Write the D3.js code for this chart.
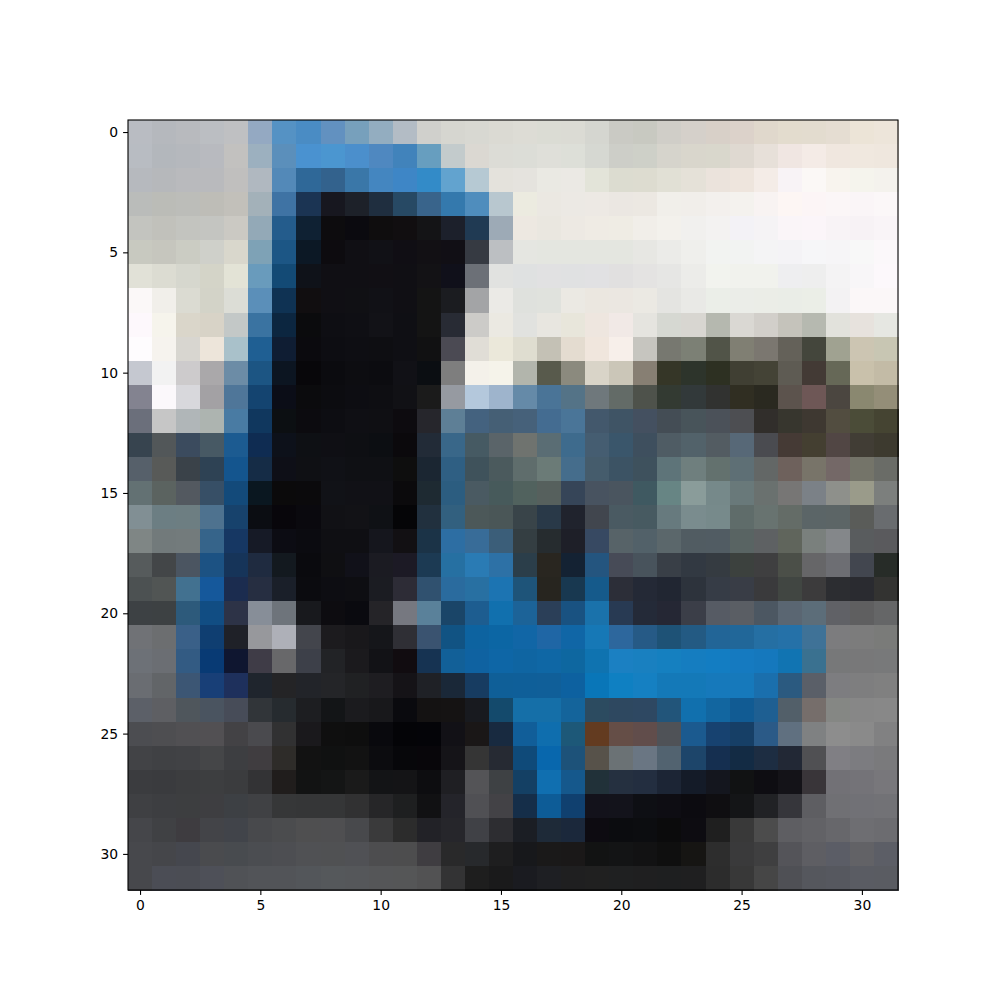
<!DOCTYPE html>
<html><head><meta charset="utf-8">
<script src="https://cdn.jsdelivr.net/npm/d3@7/dist/d3.min.js"></script>
<style>body{margin:0;background:#fff}svg{display:block}</style>
</head><body>
<script>
const row0=["#b9bcc2","#b5b8bd","#b8babe","#bbbec2","#bfc0c2","#94a9c2","#5592c4","#4a8cc4","#6291c0","#77a0bc","#93adc0","#b3bcc5","#d0d0cc","#d6d6d0","#d8d8d2","#dbdad3","#dddcd5","#dbdcd4","#dbdbd4","#d5d6d0","#cacac4","#c8c9c1","#d0cec8","#d5d0ca","#d8d0c8","#dcd2ca","#e0d8cc","#e3dcce","#e3dccf","#e5ddd2","#ece4d7","#ede5da"];
const row1=["#b8bcc2","#b3b7bc","#b5b8bd","#b8babf","#c2c1bf","#9cb0bf","#5b8fbb","#4a92d0","#4b96d0","#4b8fcc","#4f88c0","#4183bb","#679ebf","#c3cbcc","#dbd8d2","#dcdcd6","#dcddd7","#dfdfd9","#dddfd8","#d6d8d2","#cdcec8","#ced0c8","#d6d4cc","#d9d6cc","#d9d7cc","#dfd9d1","#e7e0d9","#f0e6e2","#f4ebe6","#f0e7df","#f0e8df","#efe7de"];
const row2=["#b6b9be","#b6b8bb","#b9babd","#b9babd","#c0bfbe","#b0b8c0","#5389b8","#2f6898","#33628d","#3a77a8","#4486c0","#3e86c6","#338bc8","#62a3cf","#b6c9d3","#e4e2dc","#e5e3de","#eae9e3","#ebe9e4","#e3e4d9","#dcdcd0","#dddcd0","#e1e0d5","#e5e1d8","#ebe3dc","#eee5dd","#f4ece7","#f8f3f6","#fbf8f6","#f8f4ee","#f5f4ed","#f4f2ed"];
const row3=["#babcba","#bbbcb7","#bcbdb9","#bebdb7","#c2c0ba","#a3b1b9","#3f73a4","#1b3453","#17171f","#1d2129","#1f2e3f","#274964","#39648b","#3479ad","#4f8dbd","#b8c7cf","#ecebe0","#ebe8e2","#ece9e4","#ede9e4","#ebe7e2","#ece8e2","#f1efea","#f1eeea","#f3f0ed","#f4f2ee","#f8f3f2","#fdf6f4","#fcf5f6","#fbf6f7","#faf5f7","#fbf7f8"];
const row4=["#c3c4bf","#c1c1bb","#c3c4bf","#c4c5c1","#cbc9c3","#93a9b7","#245c8c","#0f2133","#0d0c0e","#0b0a0f","#0f0d0e","#110e10","#141416","#1c202b","#203a53","#9daab6","#ede8e1","#eae7e0","#ede9e3","#efebe4","#efece4","#f1eee9","#f3f1ec","#f1f0ee","#f3f2f1","#f3f2f6","#f5f3f5","#faf5f8","#fbf5f9","#f8f3f6","#f7f2f5","#f9f4f7"];
const row5=["#c8c9c0","#c6c6be","#cbccc3","#cfd0ca","#d9d7cc","#7ea2b6","#1c5685","#0c1825","#0d0b0f","#100f14","#111116","#100e14","#121014","#110f15","#363a42","#bcbfc2","#e5e6e1","#e4e6e0","#e4e6e0","#e4e6e0","#e4e6e0","#e7e7e3","#ebebe8","#efefec","#f2f3f1","#f2f3f2","#f4f4f5","#f4f3f6","#f6f6f8","#f6f5f7","#f8f8f8","#fbf8fa"];
const row6=["#e1e1d7","#dcdcd2","#d6d7ce","#d4d4c8","#e3e3d6","#699bbc","#134a75","#0f1219","#100f14","#100f14","#110f14","#100f14","#131215","#10101a","#6c7077","#e1e2e0","#dfe1e1","#e1e1e2","#e0e1e2","#e1e1e3","#e1e0e0","#e4e3e2","#e6e6e4","#ecece9","#f2f3ee","#f1f2ed","#f1f2ed","#eeeef0","#eeeeee","#f4f3f4","#f8f6f8","#fcf8fb"];
const row7=["#fbf8f8","#f1efea","#dbdbd2","#d3d3c8","#dcddd6","#5b8fb9","#0f3253","#110e10","#100f14","#101014","#111116","#100f14","#141414","#1b1c20","#a3a4a6","#ebeae6","#dfe1dd","#e0e2dd","#ebe9e3","#ebe7e0","#ebe7e1","#ebe9e3","#e4e4e1","#e9e9e6","#ebeee8","#ebede8","#ebede7","#eaede7","#ebeee7","#f3f2f3","#fbf7f8","#fbf7f8"];
const row8=["#fdf8fc","#f6f4ec","#dad6ca","#d8d3c7","#c3c8c7","#3a73a1","#0c2640","#0b0b0d","#0e0e13","#0f0f14","#121217","#0f0f14","#141414","#282b34","#cccbc8","#ebe9e2","#e1e2df","#e8e6e0","#e8e6db","#eee6df","#f1e9e6","#e5e4df","#d6d8d2","#d8d6d1","#b5b8af","#dad8d3","#d2cfca","#c5c3bb","#b6b9b0","#e2e2dc","#e7e2dd","#e6e7e2"];
const row9=["#fefcfe","#f6f3ee","#d8d6d0","#ede5da","#a9c1ca","#1f5f93","#0f1d33","#0b0a0e","#0d0d12","#0e0e13","#0e0e12","#0f0f14","#111112","#4b4a53","#e0ddd6","#ebe8da","#dfddd0","#c4c1b5","#e4dcd0","#f0e6dd","#f7efea","#c6c5bf","#777870","#7c8075","#515448","#807f73","#7b7770","#646159","#44463c","#a0a291","#ccc5b2","#c8c6b3"];
const row10=["#c5c8d0","#f2f2f2","#cdcbcc","#aaa8aa","#6c8ca6","#1c5583","#0c1521","#08070a","#0b0b0f","#0d0d11","#0c0c10","#111116","#0b0e12","#7e7e7e","#f4f1ea","#f5f3ea","#b2b5ac","#585a4c","#8b8a7e","#d9d4c8","#cbc6b8","#877f73","#353627","#2d342b","#2d3022","#403f33","#444336","#5e5b53","#433a35","#666857","#c9c1ab","#c3bba6"];
const row11=["#838390","#fbf8fb","#d8d8dc","#a3a1a4","#4f7699","#144470","#0b0d17","#0b0b0d","#0c0c10","#0d0d12","#0e0e12","#111115","#1b1b1b","#969aa1","#b4c8dc","#9eb4cc","#658aa8","#4a7497","#547387","#6f787c","#636b67","#4e524b","#333a32","#32393a","#313230","#302e22","#2a2920","#5c534d","#6e5756","#4b4640","#8a8870","#948e78"];
const row12=["#6b6f7b","#c6c6c6","#b0b6b8","#adb4b0","#497ba3","#10375e","#0c0f12","#0c0b0f","#0d0d12","#0f0f14","#0f0f13","#0d0b0f","#26262c","#5e7f96","#44627f","#455f75","#46617a","#446c91","#4a7598","#43586c","#3f5465","#445060","#444d55","#48545a","#4b5159","#4d4e52","#312e2b","#37362e","#3e3831","#524d40","#4b4c38","#454432"];
const row13=["#37444f","#525759","#3b4b5e","#475964","#1c5b91","#0f2c52","#0d111a","#0e1014","#0f0f14","#0e0f13","#0c0e12","#0b090c","#222b37","#396789","#465a63","#5a6469","#6f736f","#5a6d74","#3e6b8d","#455d71","#3a566b","#3e4f5e","#4f5c64","#52626a","#535c62","#576877","#4a4b50","#453a35","#443f31","#514644","#413d35","#3d3a2f"];
const row14=["#56606a","#585a58","#3a4249","#2e4254","#14558e","#152c46","#0e0f17","#0f1014","#101116","#0f1014","#0f1014","#0e0e0e","#1b2632","#2f5f83","#3f525b","#4b5a5d","#5f6d6c","#6b7b77","#456d8c","#455c6c","#3c5364","#3e515d","#5e7479","#6f7f7e","#63716e","#5e6f75","#636766","#6e615c","#787469","#746867","#747469","#6a6c67"];
const row15=["#637173","#5b6360","#535960","#374f66","#134a7a","#0a1720","#0b0a0b","#0b0a0c","#111217","#111116","#111116","#0b0a0c","#1e2a32","#2c5d80","#4a5a62","#475a5b","#51625e","#56605d","#364558","#485360","#4a555f","#3f5961","#678584","#8a9c9a","#76898a","#69797a","#6a716f","#777675","#7b8187","#8e908b","#9a9b8a","#7c7f7d"];
const row16=["#818f94","#6c7e83","#6d7e82","#4e728f","#17426c","#0b0d12","#08060b","#0a090e","#111115","#121216","#0f1115","#050507","#21303e","#32607f","#4c5859","#4a5657","#394449","#293948","#20232d","#41464e","#4a5a62","#475a61","#677a7e","#7a8c8e","#778a8b","#5f6c6a","#687370","#646c67","#5b6567","#5c6566","#5a5c59","#696c6f"];
const row17=["#7f8685","#727a7b","#737b7c","#36648a","#163763","#161a26","#0c0c13","#0b0b10","#0f0f13","#0f0f13","#15161d","#121013","#1b3347","#2d6ea3","#386c98","#3b5e79","#343e42","#262c2f","#1e1f28","#374962","#576368","#526169","#5b676b","#515c62","#515c63","#596463","#5e6163","#60655c","#7a807d","#84878a","#595c5e","#5a5a5d"];
const row18=["#565b5c","#434648","#4b5561","#1c5283","#163459","#1f2b40","#13191f","#0a0a0e","#0f0f12","#111119","#1b1b22","#1c1a25","#1c3a53","#2670a2","#2a7bb4","#2d71a6","#2b3e4a","#292620","#142233","#24557f","#474b57","#48535c","#393f47","#323942","#353b41","#3c413e","#3f3f40","#4b4f48","#666668","#6d6e73","#42464f","#272c28"];
const row19=["#4c5152","#515554","#427190","#15589b","#1b2c4f","#262e41","#1a1f29","#0b0b0f","#0d0d12","#0e0e12","#1b1c22","#2d2c36","#30516f","#2a6b9e","#2870a2","#1c74b2","#1e5479","#27251f","#183850","#155a8b","#2c2e38","#242936","#212632","#2d333c","#363c46","#393d46","#3a3a3c","#414642","#3c3b3c","#2c2d31","#2a2b30","#333331"];
const row20=["#3d4144","#3d4143","#2d5a7b","#114d83","#2d3347","#878e98","#6e747b","#18191d","#0d0c10","#0a0a0f","#252428","#767880","#5a819a","#1a4568","#1d5d90","#1170ae","#1c6398","#2b3f58","#195281","#1a72ab","#283a53","#242a38","#252734","#3b3e48","#565b64","#5a5e64","#4c5762","#5a6672","#5c6d79","#606166","#5f5f60","#656667"];
const row21=["#707276","#6c6e70","#3a6088","#0f3e71","#1f2128","#97989c","#aeb0b8","#43454c","#1c1b1e","#19181b","#15161a","#2f2f35","#3a5370","#115383","#0d63a0","#0c66a4","#1166a6","#1f66a5","#1066a6","#1678b6","#2d679d","#265a86","#1e5276","#235a83","#226597","#216799","#256fa3","#2571a8","#3f7297","#7c7c7e","#7c7c7c","#7a7b79"];
const row22=["#6d7177","#6b6e73","#335b83","#083a74","#0f1630","#3f3c47","#68686a","#3d4049","#222326","#1b1a1d","#121216","#110c10","#163352","#126098","#0f62a1","#0e66a6","#0f65a2","#0f67a5","#0e67a0","#0f73b0","#1b80c2","#1980c0","#1580c0","#157dc0","#137dc2","#157ac0","#1578bd","#1174b2","#3a7190","#777879","#787879","#78797a"];
const row23=["#6a6d72","#626568","#3c5674","#183f77","#1e305c","#1f252d","#242426","#222429","#242528","#202123","#1e1d21","#151317","#1f2126","#1a2838","#173c61","#0f5f98","#0f5f99","#105f99","#0d61a0","#0976b8","#0f80c2","#1580c2","#1479b8","#1479b8","#1679bb","#1679bb","#1a6fad","#2b5a80","#5a5f68","#7d7d80","#7e7e7f","#808080"];
const row24=["#5c6068","#5e5f63","#4f565c","#4a5460","#474c58","#313539","#262b2f","#1d1e21","#131517","#1b1b1e","#18181b","#0a0a0e","#141212","#151313","#181a1f","#144a6c","#156fa8","#156fa8","#14649b","#2c4b60","#2e4860","#2e4862","#22557a","#1170ae","#1266a0","#115b93","#1e5f92","#525f69","#766e6b","#858784","#878787","#888888"];
const row25=["#4c4d51","#4e4e51","#515053","#525053","#434245","#4a4a4e","#313132","#1a191c","#0f0f0f","#0e0e0e","#09090d","#040407","#040408","#121116","#1a1717","#182a40","#115e99","#0f6eae","#1d5878","#633b20","#654e47","#614d4b","#4f5257","#1b5a8f","#174270","#163f66","#2b5a87","#607080","#7f8182","#8d8d8d","#8a8a8a","#818182"];
const row26=["#424346","#404144","#414245","#454648","#3d3e41","#403d40","#2e2c29","#121212","#101111","#121212","#0c0c0f","#07070a","#08060a","#151418","#353535","#262a33","#0f4a79","#0867ad","#1d5279","#57524a","#6b7275","#6a7683","#526370","#1d456a","#152f50","#132b44","#1d2d42","#222835","#505053","#807f84","#7c7c80","#7a7a7c"];
const row27=["#3b3c3f","#3a3b3e","#3c3d3f","#3d3e40","#3b3c3e","#333335","#201d1c","#121313","#141515","#1a1a1a","#131416","#141416","#0d0d10","#1f1f23","#545457","#3e4144","#144064","#106fb0","#15588c","#213139","#253040","#232e40","#1c2535","#141b28","#14161e","#111213","#0e0d12","#141318","#393539","#727176","#747378","#78777b"];
const row28=["#3f4043","#3d3e41","#3d3e40","#3e3e41","#3d4044","#404144","#363738","#353637","#353637","#313132","#262628","#1e1f20","#111113","#24242a","#505054","#434246","#152e49","#0d5c97","#10406f","#13121b","#13131b","#0e0f14","#0e0d13","#0c0b10","#0f0e11","#141517","#212225","#36363b","#5e5e62","#707074","#717176","#727276"];
const row29=["#45464a","#404144","#3e3c40","#434448","#41444a","#48494c","#4b4c4e","#4f4f50","#4f4f51","#48494c","#3a3a3b","#2c2c2c","#222227","#26262b","#404146","#2d2d31","#1b1e24","#1e2a38","#1b283b","#0d0b11","#0b0c0f","#0c0d10","#0b0b0c","#0d0c11","#1f1f1f","#393939","#4c4c4c","#5e5e62","#626266","#67676b","#6e6e72","#6c6c70"];
const row30=["#47484c","#45464a","#45474e","#4a4b4e","#484b4f","#4b4d51","#4d4e52","#505154","#505153","#505155","#4d4d4f","#4d4d4e","#3f3d41","#29292a","#27292c","#1e1e1f","#17181b","#1a1919","#1a1818","#121313","#131415","#121213","#0f0f0f","#161513","#2d2d2d","#3a3a3b","#3f3f40","#545459","#5e5e63","#5b5d66","#626266","#5c5e66"];
const row31=["#47484c","#4b4d55","#4b4d54","#4e5058","#505256","#525458","#525458","#53565a","#55585b","#55575a","#555658","#555657","#525253","#333334","#1e1e1e","#1a1a1b","#1a1b20","#1e1f23","#1f1f20","#202020","#1f2021","#1f1f20","#1e1f20","#1f1f20","#2c2c2c","#383838","#464646","#4f5055","#55575d","#56585f","#5a5c63","#5a5c62"];
const imageRows=[row0,row1,row2,row3,row4,row5,row6,row7,row8,row9,row10,row11,row12,row13,row14,row15,row16,row17,row18,row19,row20,row21,row22,row23,row24,row25,row26,row27,row28,row29,row30,row31];
const xTicks=[0,5,10,15,20,25,30];
const yTicks=[0,5,10,15,20,25,30];

const W=1000,H=1000,plotLeft=128,plotTop=120,plotSize=770;
const svg=d3.select("body").append("svg").attr("width",W).attr("height",H);
const idx=d3.range(32);
const x=d3.scaleBand().domain(idx).range([plotLeft,plotLeft+plotSize]);
const y=d3.scaleBand().domain(idx).range([plotTop,plotTop+plotSize]);
const cells=[];
imageRows.forEach((r,i)=>r.forEach((c,j)=>cells.push({i,j,c})));
svg.append("g").selectAll("rect").data(cells).join("rect")
  .attr("x",d=>x(d.j)).attr("y",d=>y(d.i))
  .attr("width",x.bandwidth()+0.5).attr("height",y.bandwidth()+0.5)
  .attr("fill",d=>d.c).attr("shape-rendering","crispEdges");
svg.append("rect").attr("x",plotLeft).attr("y",plotTop).attr("width",plotSize).attr("height",plotSize)
  .attr("fill","none").attr("stroke","#000").attr("stroke-width",1.1);
const fmt=d=>String(d);
const xLin=d3.scaleLinear().domain([-0.5,31.5]).range([plotLeft,plotLeft+plotSize]);
const yLin=d3.scaleLinear().domain([-0.5,31.5]).range([plotTop,plotTop+plotSize]);
const xa=svg.append("g").attr("transform",`translate(0,${plotTop+plotSize})`)
  .call(d3.axisBottom(xLin).tickValues(xTicks).tickFormat(fmt).tickSize(4.9).tickPadding(4.9));
const ya=svg.append("g").attr("transform",`translate(${plotLeft},0)`)
  .call(d3.axisLeft(yLin).tickValues(yTicks).tickFormat(fmt).tickSize(4.9).tickPadding(4.9));
[xa,ya].forEach(a=>{
  a.select(".domain").remove();
  a.selectAll("line").attr("stroke","#000").attr("stroke-width",1.1);
  a.selectAll("text").attr("font-family","DejaVu Sans").attr("font-size","13.9px").attr("fill","#000");
});
</script>
</body></html>
